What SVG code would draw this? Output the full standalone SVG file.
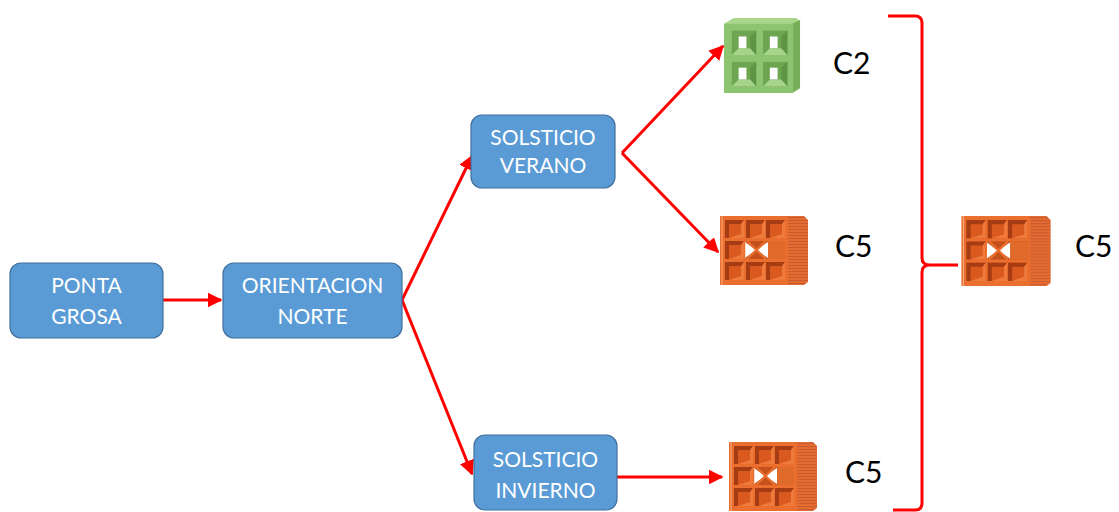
<svg xmlns="http://www.w3.org/2000/svg" width="1119" height="512" viewBox="0 0 1119 512">
  <style>
    .box { fill: #5B9BD5; stroke: #41719C; stroke-width: 1.2; }
    .boxtext { font-family: Lato, "Open Sans", sans-serif; font-size: 21px; fill: #FFFFFF; text-anchor: middle; }
    .label { font-family: Lato, "Open Sans", sans-serif; font-size: 30px; fill: #000000; }
    .conn { stroke: #FF0000; stroke-width: 3; fill: none; }
  </style>
  <defs>
    <marker id="arrow" viewBox="0 0 10 10" refX="9" refY="5" markerWidth="5" markerHeight="5" orient="auto" markerUnits="strokeWidth">
      <path d="M0,0 L10,5 L0,10 Z" fill="#FF0000"/>
    </marker>
    <pattern id="ribs" width="3" height="3" patternUnits="userSpaceOnUse">
      <rect width="3" height="3" fill="#E36C32"/>
      <rect width="3" height="1" fill="#CB5A2C"/>
    </pattern>
    <!-- one open cell of the ceramic block -->
    <g id="hole">
      <rect x="0" y="0" width="19" height="18" fill="#D9591F"/>
      <polygon points="0,0 19,0 16,4 4,4 4,18 0,18" fill="#A63C14"/>
      <polygon points="19,0 19,18 4,18 16,14 16,4" fill="#EE7A3C"/>
    </g>
    <!-- ceramic block (orange) -->
    <symbol id="brickC5" viewBox="0 0 90 72">
      <polygon points="68,2 86,2 90,6 90,68 86,71 68,71" fill="url(#ribs)"/>
      <rect x="2" y="2" width="68" height="69" fill="#EA6E2E"/>
      <line x1="4" y1="2" x2="4" y2="71" stroke="#F6AE86" stroke-width="1"/>
      <use href="#hole" x="7" y="6"/>
      <use href="#hole" x="28" y="6"/>
      <use href="#hole" x="48" y="6"/>
      <use href="#hole" x="7" y="48"/>
      <use href="#hole" x="28" y="48"/>
      <use href="#hole" x="48" y="48"/>
      <use href="#hole" x="7" y="27"/>
      <!-- middle cells: cross-shaped opening -->
      <rect x="28" y="27" width="39" height="18" fill="#C4501C"/>
      <polygon points="50,27 67,27 67,45 50,45" fill="#E06A2A"/>
      <polygon points="27,28 27,44 38,36" fill="#FFFFFF"/>
      <polygon points="50,28 50,44 38,36" fill="#FFFFFF"/>
      <line x1="29" y1="27" x2="48" y2="45" stroke="#EA6E2E" stroke-width="2.2"/>
      <line x1="48" y1="27" x2="29" y2="45" stroke="#EA6E2E" stroke-width="2.2"/>
      <line x1="26.5" y1="27" x2="26.5" y2="45" stroke="#EA6E2E" stroke-width="1.5"/>
    </symbol>
    <!-- hollow block (green) -->
    <symbol id="blockC2" viewBox="0 0 80 80">
      <polygon points="0,8 10,2 74,2 78,5 72,10 0,10" fill="#A9D68C"/>
      <polygon points="70,8 78,4 78,74 70,79" fill="#78AE58"/>
      <rect x="0" y="8" width="71" height="71" fill="#8DC470"/>
      <g fill="#6DA550">
        <rect x="8" y="15" width="25" height="25"/>
        <rect x="40" y="15" width="25" height="25"/>
        <rect x="8" y="47" width="25" height="25"/>
        <rect x="40" y="47" width="25" height="25"/>
      </g>
      <g fill="#A6D48A">
        <polygon points="8,40 33,40 27,33 15,33"/>
        <polygon points="40,40 65,40 59,33 47,33"/>
        <polygon points="8,72 33,72 27,65 15,65"/>
        <polygon points="40,72 65,72 59,65 47,65"/>
      </g>
      <g fill="#5E9444">
        <polygon points="27,21 33,15 33,40 27,33"/>
        <polygon points="59,21 65,15 65,40 59,33"/>
        <polygon points="27,53 33,47 33,72 27,65"/>
        <polygon points="59,53 65,47 65,72 59,65"/>
      </g>
      <g fill="#FFFFFF">
        <rect x="15" y="21" width="8" height="12"/>
        <rect x="47" y="21" width="8" height="12"/>
        <rect x="15" y="53" width="8" height="12"/>
        <rect x="47" y="53" width="8" height="12"/>
      </g>
    </symbol>
  </defs>

  <g id="connectors">
    <line class="conn" x1="163" y1="300" x2="221" y2="300" marker-end="url(#arrow)"/>
    <line class="conn" x1="402" y1="300" x2="472" y2="156" marker-end="url(#arrow)"/>
    <line class="conn" x1="402" y1="300" x2="472" y2="474" marker-end="url(#arrow)"/>
    <line class="conn" x1="622" y1="153" x2="723" y2="46" marker-end="url(#arrow)"/>
    <line class="conn" x1="622" y1="153" x2="718" y2="252" marker-end="url(#arrow)"/>
    <line class="conn" x1="617" y1="477" x2="722" y2="477" marker-end="url(#arrow)"/>
    <path class="conn" stroke-width="2.5" d="M888,16 L915,16 Q922,16 922,23 L922,258 Q922,265 930,265 L958,265 M930,265 Q922,265 922,272 L922,503 Q922,510 915,510 L893,510"/>
  </g>

  <g id="ponta-grosa">
    <rect class="box" x="10" y="263" width="153" height="75" rx="11"/>
    <text class="boxtext" x="86.5" y="293">PONTA</text>
    <text class="boxtext" x="86.5" y="324">GROSA</text>
  </g>
  <g id="orientacion-norte">
    <rect class="box" x="223" y="263" width="179" height="75" rx="11"/>
    <text class="boxtext" x="312.5" y="293">ORIENTACION</text>
    <text class="boxtext" x="312.5" y="324">NORTE</text>
  </g>
  <g id="solsticio-verano">
    <rect class="box" x="471" y="115" width="144" height="73" rx="11"/>
    <text class="boxtext" x="543" y="145">SOLSTICIO</text>
    <text class="boxtext" x="543" y="173">VERANO</text>
  </g>
  <g id="solsticio-invierno">
    <rect class="box" x="474" y="435" width="143" height="75" rx="11"/>
    <text class="boxtext" x="545.5" y="467">SOLSTICIO</text>
    <text class="boxtext" x="545.5" y="498">INVIERNO</text>
  </g>

  <g id="block-c2">
    <use href="#blockC2" x="724" y="16" width="78" height="78"/>
    <text class="label" x="833" y="74">C2</text>
  </g>
  <g id="brick-c5-verano">
    <use href="#brickC5" x="718" y="214" width="90" height="72"/>
    <text class="label" x="835" y="257">C5</text>
  </g>
  <g id="brick-c5-invierno">
    <use href="#brickC5" x="727" y="440" width="90" height="72"/>
    <text class="label" x="845" y="483">C5</text>
  </g>
  <g id="brick-c5-result">
    <use href="#brickC5" x="959" y="214" width="92" height="73"/>
    <text class="label" x="1075" y="257">C5</text>
  </g>
</svg>
